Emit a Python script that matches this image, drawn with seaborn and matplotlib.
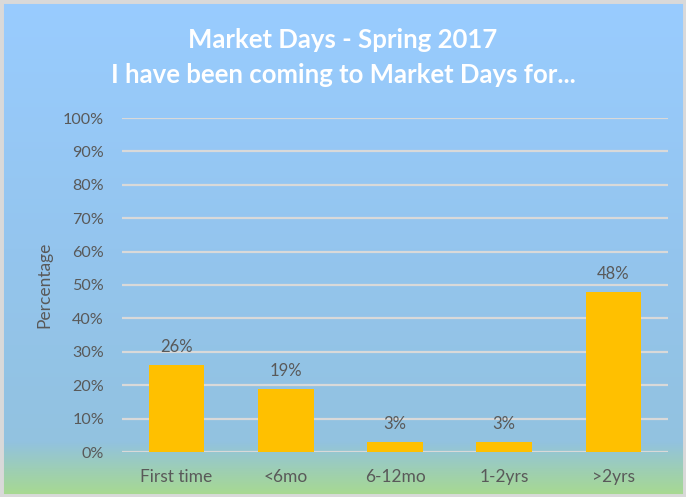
import numpy as np
import matplotlib
matplotlib.use("Agg")
import matplotlib.pyplot as plt
from matplotlib.colors import LinearSegmentedColormap
from matplotlib.patches import Rectangle
from matplotlib.ticker import PercentFormatter
import seaborn as sns

# data
categories = ["First time", "<6mo", "6-12mo", "1-2yrs", ">2yrs"]
percent = [26, 19, 3, 3, 48]
y_ticks = [0, 10, 20, 30, 40, 50, 60, 70, 80, 90, 100]

sns.set_style("white")
plt.rcParams["font.family"] = ["Lato", "DejaVu Sans"]

text_grey = "#595959"
bar_gold = "#FFC000"

fig = plt.figure(figsize=(6.86, 4.97), dpi=100)

# gradient background (blue sky to green at the bottom)
bg = fig.add_axes([0, 0, 1, 1], zorder=0)
grad = LinearSegmentedColormap.from_list("bg", [
    (0.0, (153/255, 204/255, 255/255)),
    (0.5, (148/255, 197/255, 238/255)),
    (0.89, (146/255, 194/255, 224/255)),
    (0.95, (158/255, 207/255, 178/255)),
    (1.0, (168/255, 218/255, 142/255)),
])
bg.imshow(np.linspace(0, 1, 256).reshape(-1, 1), aspect="auto", cmap=grad,
          extent=[0, 1, 0, 1], origin="upper")
bg.add_patch(Rectangle((0, 0), 1, 1, transform=bg.transAxes, fill=False,
                       edgecolor="#D9D9D9", linewidth=5))
bg.axis("off")

ax = fig.add_axes([122/686, 45/497, 546/686, 334/497], zorder=1)
ax.patch.set_alpha(0)

sns.barplot(x=categories, y=percent, color=bar_gold, width=0.51,
            saturation=1, linewidth=0, edgecolor="none", ax=ax, zorder=3)
ax.bar_label(ax.containers[0], labels=[f"{v}%" for v in percent],
             padding=7, fontsize=12, color=text_grey)

ax.set_ylim(0, 100)
ax.set_yticks(y_ticks)
ax.yaxis.set_major_formatter(PercentFormatter(decimals=0))
ax.grid(axis="y", color="#D9D9D9", linewidth=1.6, zorder=0)
ax.set_axisbelow(True)
for s in ax.spines.values():
    s.set_visible(False)
ax.tick_params(axis="both", length=0, labelcolor=text_grey)
ax.tick_params(axis="y", pad=13, labelsize=11.6)
ax.tick_params(axis="x", pad=12, labelsize=12.5)
ax.set_xlabel("")
ax.set_ylabel("Percentage", fontsize=12.5, color=text_grey)
ax.yaxis.set_label_coords(-0.128, 0.5)

fig.text(0.5, 1 - 40/497, "Market Days - Spring 2017", ha="center", va="center",
         fontsize=18.5, fontweight="bold", color="white")
fig.text(0.5, 1 - 75/497, "I have been coming to Market Days for...", ha="center",
         va="center", fontsize=18.5, fontweight="bold", color="white")

fig.savefig("out.png", dpi=100)
